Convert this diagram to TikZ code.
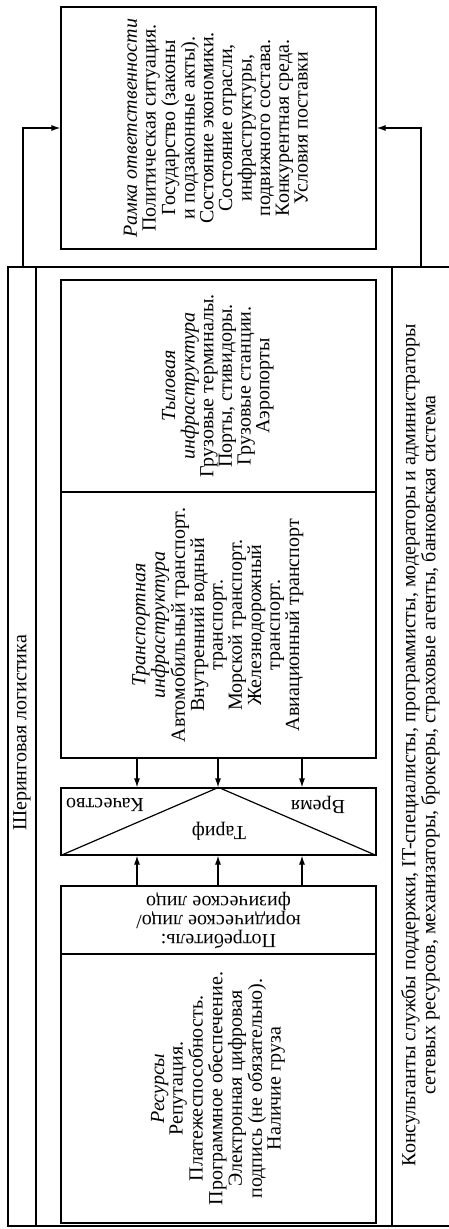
\documentclass[tikz,border=0pt]{standalone}
\usepackage{fontspec}
\setmainfont{Liberation Serif}
\usepackage{graphicx}
\usetikzlibrary{arrows.meta}

\newcommand{\uptext}[1]{\rotatebox{90}{\begin{tabular}{@{}c@{}}#1\end{tabular}}}
\newcommand{\flipped}[1]{\rotatebox{180}{\begin{tabular}{@{}c@{}}#1\end{tabular}}}

\tikzset{
  box/.style={draw, rectangle, inner sep=0pt, minimum width=315pt},
  link/.style={-{Latex[length=9pt,width=6pt]}},
}

\begin{document}
\begin{tikzpicture}[x=1pt, y=-1pt, line width=1.2pt,
    font=\fontsize{20}{18.6}\selectfont]
  \useasboundingbox (0,0) rectangle (449,1229);

  % outer frames
  \node[draw, inner sep=0pt, minimum width=384pt, minimum height=959pt] (sharing) at (200,746.5) {};
  \node[draw, inner sep=0pt, minimum width=60pt, minimum height=959pt] (staff) at (422,746.5) {};
  \draw (sharing.north west -| 36,0) -- (sharing.south west -| 36,0);
  \node[rotate=90] (sharingname) at (22,733) {Шеринговая логистика};
  \node (stafftext) at (421,745) {\uptext{Консультанты службы поддержки, IT-специалисты, программисты, модераторы и администраторы\\
    сетевых ресурсов, механизаторы, брокеры, страховые агенты, банковская система}};

  % environment
  \node[box, minimum height=242pt] (frame) at (218.5,128) {\uptext{\textit{Рамка ответственности}\\
    Политическая ситуация.\\
    Государство (законы\\
    и подзаконные акты).\\
    Состояние экономики.\\
    Состояние отрасли,\\
    инфраструктуры,\\
    подвижного состава.\\
    Конкурентная среда.\\
    Условия поставки}};

  % infrastructure
  \node[box, minimum height=212pt] (rear) at (218.5,386) {\uptext{\textit{Тыловая}\\
    \textit{инфраструктура}\\
    Грузовые терминалы.\\
    Порты, стивидоры.\\
    Грузовые станции.\\
    Аэропорты}};
  \node[box, minimum height=266pt] (trans) at (218.5,625) {\uptext{\textit{Транспортная}\\
    \textit{инфраструктура}\\
    Автомобильный транспорт.\\
    Внутренний водный\\
    транспорт.\\
    Морской транспорт.\\
    Железнодорожный\\
    транспорт.\\
    Авиационный транспорт}};

  % tariff triangle
  \node[box, minimum height=67pt] (tariff) at (218.5,821.5) {};
  \draw (tariff.south west) -- (tariff.north) -- (tariff.south east);
  \node[rotate=180] (quality) at (105,805) {Качество};
  \node[rotate=180] (time) at (318,805) {Время};
  \node[rotate=180] (price) at (219,831) {Тариф};

  % consumer and resources
  \node[box, minimum height=68pt] (consumer) at (218.5,920) {\flipped{Потребитель:\\
    юридическое лицо/\\
    физическое лицо}};
  \node[box, minimum height=269pt] (res) at (218.5,1088.5) {\uptext{\textit{Ресурсы}\\
    Репутация.\\
    Платежеспособность.\\
    Программное обеспечение.\\
    Электронная цифровая\\
    подпись (не обязательно).\\
    Наличие груза}};

  \foreach \x in {137,218,302} {
    \draw[link] (trans.south -| \x,0) -- (tariff.north -| \x,0);
    \draw[link] (consumer.north -| \x,0) -- (tariff.south -| \x,0);
  }

  \coordinate (left) at (23,267);
  \coordinate (right) at (421,267);
  \draw[link] (left) |- (frame.west);
  \draw[link] (right) |- (frame.east);
\end{tikzpicture}
\end{document}
